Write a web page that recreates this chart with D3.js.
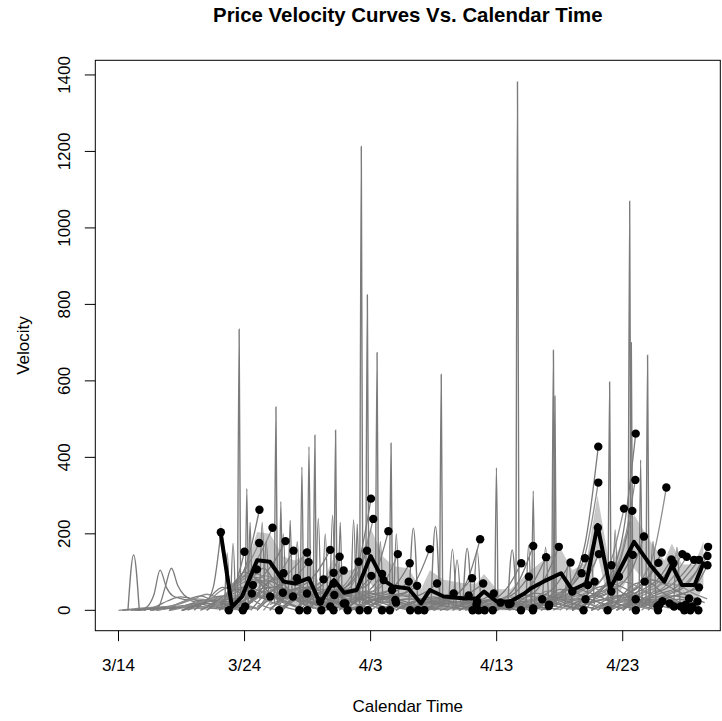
<!DOCTYPE html>
<html><head><meta charset="utf-8">
<script src="https://cdn.jsdelivr.net/npm/d3@7"></script>
<style>
body{margin:0;background:#fff}
svg{display:block}
text{font-family:"Liberation Sans",Arial,Helvetica,sans-serif;fill:#000}
</style>
</head><body>
<svg id="chart" width="722" height="721"></svg>
<script>
// ---------------- DATA (days since 3/14) ----------------
const xTickDays = [0, 10, 20, 30, 40];
const xTickLabels = ["3/14", "3/24", "4/3", "4/13", "4/23"];
const yTicks = [0, 200, 400, 600, 800, 1000, 1200, 1400];

// thick black mean curve
const meanDays = [8.1, 9.0, 9.8, 11.0, 12.0, 13.1, 14.0, 15.1, 16.0, 17.1, 17.9, 18.9, 20.0, 21.0, 21.8, 23.0, 24.0, 24.7, 25.8, 27.5, 28.4, 29.0, 30.0, 31.1, 32.2, 32.7, 33.7, 35.1, 36.0, 37.1, 38.0, 39.0, 40.9, 42.2, 43.3, 43.9, 44.7, 45.7, 46.4];
const meanVals = [204, 9, 36, 131, 127, 75, 70, 84, 18, 79, 46, 53, 142, 79, 62, 57, 18, 53, 36, 31, 31, 49, 23, 23, 44, 57, 75, 97, 53, 70, 223, 57, 179, 118, 75, 118, 66, 66, 123];
// light grey band around the mean
const bandUpper = [230, 45, 85, 205, 200, 140, 130, 150, 60, 140, 100, 110, 215, 140, 115, 110, 55, 105, 80, 70, 70, 95, 55, 55, 90, 105, 130, 160, 105, 125, 300, 110, 250, 180, 130, 175, 120, 120, 180];
const bandLower = [170, 0, 0, 60, 60, 15, 10, 20, 0, 20, 0, 0, 70, 20, 10, 5, 0, 0, 0, 0, 0, 5, 0, 0, 0, 10, 20, 35, 0, 15, 145, 5, 110, 55, 20, 60, 10, 10, 65];

// narrow peaks: [day, height, half width (days), base]
const spikes = [
  [1.2, 145, 0.45, 0], [9.57, 735, 0.12, 20], [10.18, 318, 0.12, 20], [12.49, 532, 0.12, 20], [12.88, 284, 0.12, 20],
  [14.55, 375, 0.12, 15], [15.11, 428, 0.12, 15], [15.58, 458, 0.12, 15], [17.22, 471, 0.12, 15], [19.26, 1213, 0.12, 15],
  [19.74, 825, 0.12, 15], [20.51, 674, 0.12, 15], [21.62, 437, 0.12, 15], [25.6, 617, 0.12, 10], [29.98, 373, 0.12, 10],
  [31.65, 1382, 0.12, 10], [32.9, 312, 0.12, 10], [34.5, 680, 0.12, 10], [34.62, 560, 0.12, 10], [38.96, 597, 0.12, 10],
  [40.55, 1070, 0.12, 10], [40.68, 700, 0.12, 10], [41.42, 393, 0.12, 10], [41.97, 667, 0.12, 10],
  [8.62, 150, 0.2, 5], [9.09, 175, 0.2, 5], [10.44, 230, 0.15, 20], [11.4, 230, 0.2, 30], [11.72, 180, 0.2, 30],
  [13.07, 200, 0.2, 30], [13.62, 235, 0.15, 30], [14.18, 180, 0.2, 25], [15.85, 240, 0.2, 20], [16.4, 200, 0.2, 20],
  [16.98, 249, 0.2, 20], [17.59, 230, 0.15, 20], [18.65, 236, 0.2, 20], [18.94, 225, 0.15, 20], [20.77, 180, 0.2, 20],
  [22.04, 200, 0.2, 15], [23.39, 215, 0.35, 15], [25.14, 219, 0.35, 15], [26.49, 160, 0.3, 10], [27.66, 162, 0.35, 10],
  [28.45, 158, 0.3, 10], [26.86, 132, 0.3, 10], [31.23, 158, 0.35, 10], [32.53, 170, 0.2, 10], [33.88, 165, 0.25, 10],
  [35.7, 130, 0.3, 10], [37.45, 150, 0.3, 15], [39.4, 210, 0.2, 15], [42.4, 180, 0.25, 15], [44.3, 165, 0.25, 15]
];

// individual velocity curves: [start day, end day, values at evenly spaced knots]
const curves = [
  [0.0, 7.0, 0, 3, 6, 8, 10, 8, 6, 4],
  [1.3, 8.3, 0, 2, 10, 40, 105, 60, 38, 32, 28, 25, 20, 15, 10, 8, 5],
  [2.7, 9.7, 0, 10, 60, 110, 65, 40, 30, 26, 22, 18, 14, 10, 7, 4, 3],
  [1.0, 9.0, 0, 2, 5, 10, 18, 30, 42, 30, 15],
  [1.5, 9.5, 0, 3, 6, 14, 28, 38, 25, 14, 6],
  [3.0, 10.0, 0, 5, 10, 20, 28, 22, 12, 5],
  [4.0, 11.0, 0, 6, 14, 22, 26, 18, 10, 4],
  [0.3, 8.3, 0, 2, 4, 6, 9, 12, 10, 6, 3],
  [2.5, 10.5, 0, 4, 8, 12, 16, 18, 14, 8, 3],
  [5.0, 11.0, 0, 5, 12, 20, 24, 15, 6],
  [5.1, 8.12, 0, 8, 12, 20, 60, 204],
  [2.0, 8.75, 0, 10, 25, 35, 30, 20, 10, 0],
  [3.0, 9.87, 0, 8, 20, 30, 28, 15, 6, 0],
  [3.5, 9.99, 5, 6, 14, 22, 30, 45, 153],
  [4.0, 10.05, 0, 10, 18, 25, 20, 14, 10],
  [4.5, 10.58, 10, 12, 22, 30, 35, 40, 44],
  [5.0, 10.66, 0, 15, 25, 28, 35, 66],
  [5.5, 10.98, 0, 20, 35, 40, 60, 107],
  [6.0, 11.16, 20, 25, 50, 70, 110, 176],
  [7.0, 11.18, 0, 30, 60, 120, 263],
  [6.5, 12.03, 0, 20, 45, 60, 40, 36],
  [7.5, 12.22, 10, 40, 80, 100, 150, 216],
  [6.0, 12.74, 0, 30, 60, 50, 30, 10, 0],
  [7.0, 13.04, 0, 25, 55, 45, 35, 46],
  [7.5, 13.09, 5, 35, 70, 80, 75, 97],
  [8.0, 13.25, 0, 50, 90, 85, 120, 181],
  [8.0, 13.84, 20, 30, 60, 45, 30, 36],
  [8.5, 13.88, 0, 40, 70, 75, 100, 156],
  [9.0, 14.15, 10, 45, 80, 60, 70, 84],
  [8.0, 14.35, 0, 25, 40, 35, 20, 8, 0],
  [9.5, 14.95, 0, 60, 90, 80, 110, 151],
  [8.5, 14.95, 15, 20, 45, 60, 40, 30, 44],
  [9.0, 14.98, 0, 30, 50, 35, 15, 0],
  [10.0, 15.08, 0, 55, 85, 70, 90, 126],
  [10.0, 16.0, 5, 35, 60, 55, 35, 20, 23],
  [10.5, 16.1, 0, 40, 55, 30, 12, 0],
  [10.5, 16.27, 20, 45, 60, 50, 55, 81],
  [11.0, 16.8, 0, 50, 70, 65, 95, 158],
  [11.0, 16.8, 10, 30, 45, 30, 15, 10],
  [11.5, 17.06, 0, 40, 55, 60, 70, 98],
  [11.0, 17.06, 0, 35, 50, 40, 45, 70],
  [12.0, 17.06, 0, 35, 40, 20, 0],
  [12.0, 17.12, 15, 30, 45, 35, 25, 40],
  [12.5, 17.54, 0, 45, 60, 55, 80, 140],
  [13.0, 17.86, 0, 35, 50, 45, 60, 104],
  [12.0, 17.86, 5, 25, 40, 35, 25, 18],
  [13.0, 18.0, 0, 30, 35, 28, 18],
  [13.0, 18.18, 10, 30, 40, 25, 10, 0],
  [14.0, 19.05, 0, 40, 55, 50, 70, 127],
  [14.0, 19.13, 0, 30, 35, 20, 8, 0],
  [14.5, 19.71, 5, 35, 50, 55, 80, 156],
  [15.0, 19.78, 0, 35, 40, 20, 0],
  [14.0, 20.03, 0, 30, 45, 40, 60, 120, 292],
  [15.0, 20.06, 10, 30, 45, 40, 55, 90],
  [15.0, 20.21, 0, 35, 50, 55, 110, 239],
  [16.0, 20.9, 0, 30, 40, 20, 0],
  [16.0, 20.91, 5, 35, 45, 50, 95],
  [16.5, 21.03, 0, 30, 40, 45, 79],
  [16.5, 21.41, 0, 40, 55, 60, 100, 207],
  [17.0, 21.53, 0, 25, 30, 15, 0],
  [17.0, 21.7, 10, 30, 40, 45, 53],
  [17.0, 21.96, 0, 25, 35, 30, 27],
  [17.5, 22.02, 0, 25, 30, 22, 20],
  [17.5, 22.16, 5, 30, 45, 50, 80, 147],
  [18.0, 23.02, 0, 25, 35, 40, 50, 75],
  [18.0, 23.1, 0, 30, 40, 45, 70, 123],
  [18.5, 23.14, 5, 20, 30, 15, 0],
  [18.5, 23.69, 0, 25, 35, 40, 64],
  [19.0, 23.77, 0, 25, 30, 12, 0],
  [19.5, 24.26, 0, 20, 25, 10, 0],
  [19.5, 24.69, 0, 25, 40, 45, 80, 160],
  [20.0, 25.27, 10, 30, 40, 35, 45, 70],
  [21.0, 26.59, 0, 25, 30, 28, 35, 44],
  [22.0, 27.78, 0, 20, 28, 25, 30, 39],
  [22.5, 28.05, 5, 22, 30, 28, 45, 84],
  [23.0, 28.09, 0, 18, 22, 12, 0],
  [23.0, 28.4, 0, 20, 25, 20, 15],
  [23.5, 28.45, 0, 18, 22, 20, 23],
  [23.5, 28.57, 5, 15, 20, 10, 0],
  [23.0, 28.69, 0, 20, 30, 35, 70, 186],
  [23.5, 28.93, 0, 22, 28, 30, 45, 70],
  [24.0, 29.05, 0, 15, 18, 8, 0],
  [24.5, 29.69, 0, 15, 20, 10, 0],
  [24.5, 29.77, 5, 18, 22, 25, 44],
  [25.0, 30.3, 0, 15, 22, 18, 20],
  [25.5, 30.96, 0, 15, 20, 15, 16],
  [26.0, 31.1, 0, 15, 18, 14, 18],
  [26.5, 31.93, 5, 15, 18, 8, 0],
  [26.5, 31.95, 0, 18, 25, 30, 60, 123],
  [27.0, 32.55, 0, 15, 22, 28, 45, 88],
  [27.5, 32.88, 0, 12, 18, 8, 0],
  [27.5, 32.9, 5, 18, 25, 35, 80, 168],
  [28.0, 32.9, 0, 12, 15, 10, 5],
  [28.5, 33.61, 0, 15, 20, 22, 29],
  [28.5, 33.92, 0, 18, 25, 35, 70, 139],
  [29.0, 34.14, 5, 12, 18, 14, 11],
  [29.0, 34.16, 0, 15, 20, 18, 15],
  [29.5, 34.93, 0, 20, 28, 40, 85, 166],
  [30.0, 35.86, 0, 18, 25, 35, 65, 125],
  [30.5, 36.0, 5, 18, 25, 30, 49],
  [31.0, 36.74, 0, 20, 28, 35, 55, 97],
  [31.5, 36.89, 0, 15, 20, 10, 0],
  [31.5, 37.0, 0, 22, 30, 40, 75, 136],
  [32.0, 37.05, 5, 15, 25, 28, 29],
  [32.0, 37.24, 0, 20, 30, 40, 66],
  [32.5, 37.77, 0, 22, 30, 45, 75],
  [32.5, 38.03, 5, 25, 40, 60, 110, 216],
  [33.0, 38.06, 0, 25, 45, 80, 180, 428],
  [33.0, 38.06, 0, 20, 40, 70, 150, 334],
  [33.0, 38.11, 10, 25, 35, 50, 80, 147],
  [33.5, 38.8, 0, 20, 30, 15, 0],
  [34.0, 39.1, 0, 25, 35, 45, 70, 118],
  [34.0, 39.1, 5, 20, 30, 35, 49],
  [34.5, 39.7, 0, 22, 35, 45, 88],
  [35.0, 40.1, 0, 25, 45, 70, 130, 266],
  [35.5, 40.76, 10, 25, 40, 65, 120, 260],
  [35.5, 40.8, 0, 25, 40, 55, 85, 145],
  [36.0, 41.0, 0, 25, 45, 80, 160, 341],
  [36.0, 41.03, 5, 30, 50, 90, 200, 462],
  [36.0, 41.03, 0, 20, 30, 35, 29],
  [36.0, 41.04, 0, 20, 28, 15, 0],
  [36.5, 41.68, 0, 25, 40, 60, 100, 193],
  [36.5, 41.74, 10, 22, 35, 45, 75],
  [37.5, 42.75, 0, 20, 28, 20, 10],
  [37.5, 42.8, 0, 18, 25, 12, 0],
  [37.5, 42.83, 5, 25, 35, 50, 75, 124],
  [38.0, 42.93, 0, 20, 25, 20, 15],
  [38.0, 43.09, 0, 25, 40, 55, 90, 151],
  [38.0, 43.15, 10, 20, 30, 28, 24],
  [38.5, 43.46, 0, 25, 45, 80, 150, 321],
  [38.5, 43.72, 0, 20, 28, 24, 18],
  [39.0, 43.86, 5, 30, 45, 60, 85, 133],
  [39.0, 44.02, 0, 28, 40, 55, 80, 123],
  [39.0, 44.07, 0, 18, 25, 18, 10],
  [39.5, 44.6, 10, 20, 28, 20, 10],
  [39.5, 44.73, 0, 30, 45, 60, 95, 147],
  [39.5, 44.88, 0, 20, 28, 15, 0],
  [40.0, 45.0, 5, 22, 30, 25, 15],
  [40.0, 45.08, 0, 30, 45, 55, 90, 140],
  [40.0, 45.26, 0, 25, 35, 38, 31],
  [40.5, 45.36, 10, 20, 25, 12, 0],
  [40.5, 45.53, 0, 20, 28, 18, 10],
  [40.5, 45.66, 0, 30, 45, 60, 90, 132],
  [41.0, 45.93, 5, 22, 30, 28, 23],
  [41.0, 46.0, 0, 20, 25, 12, 0],
  [41.0, 46.05, 0, 30, 45, 55, 90, 132],
  [41.5, 46.05, 10, 25, 35, 45, 60],
  [41.5, 46.72, 0, 30, 45, 60, 95, 142],
  [42.0, 46.72, 0, 28, 40, 55, 118],
  [42.0, 46.77, 5, 30, 45, 60, 100, 166],
  [7.5, 14.5, 5, 40, 70, 90, 60, 30, 15, 5],
  [8.0, 15.0, 10, 60, 100, 80, 45, 25, 10, 2],
  [8.5, 15.5, 0, 30, 80, 110, 70, 40, 20, 5],
  [9.0, 16.0, 5, 50, 95, 70, 40, 30, 15, 3],
  [9.5, 16.5, 0, 25, 60, 85, 55, 35, 20, 8],
  [10.0, 17.0, 0, 40, 75, 60, 30, 20, 10, 2],
  [11.0, 18.0, 5, 35, 65, 75, 50, 30, 15, 5],
  [12.0, 19.0, 0, 30, 55, 45, 35, 25, 12, 3],
  [13.0, 20.0, 5, 40, 60, 50, 40, 30, 15, 5],
  [14.0, 21.0, 0, 25, 45, 55, 40, 25, 12, 2],
  [15.0, 22.0, 0, 30, 50, 40, 30, 20, 10, 3],
  [16.0, 23.0, 5, 35, 55, 45, 30, 18, 8, 2],
  [17.0, 24.0, 0, 25, 40, 50, 35, 20, 10, 4],
  [18.0, 25.0, 0, 30, 45, 35, 25, 15, 8, 2],
  [19.0, 26.0, 5, 25, 35, 30, 20, 12, 6, 2],
  [20.0, 27.0, 0, 20, 35, 40, 28, 15, 8, 3],
  [21.0, 28.0, 0, 25, 30, 25, 18, 10, 5, 2],
  [22.0, 29.0, 0, 18, 30, 35, 22, 12, 6, 2],
  [23.0, 30.0, 5, 20, 28, 22, 15, 10, 5, 2],
  [24.0, 31.0, 0, 15, 25, 30, 20, 12, 6, 2],
  [25.0, 32.0, 0, 18, 22, 18, 12, 8, 4, 1],
  [26.0, 33.0, 3, 20, 30, 25, 18, 10, 5, 2],
  [27.0, 34.0, 0, 15, 25, 28, 20, 12, 6, 2],
  [28.0, 35.0, 0, 20, 30, 22, 15, 10, 6, 3],
  [29.0, 36.0, 5, 22, 35, 30, 22, 15, 8, 3],
  [30.0, 37.0, 0, 25, 40, 35, 25, 15, 8, 2],
  [31.0, 38.0, 0, 28, 45, 40, 30, 18, 10, 3],
  [32.0, 39.0, 5, 30, 50, 45, 32, 20, 10, 4],
  [33.0, 40.0, 0, 30, 55, 50, 35, 22, 12, 4],
  [34.0, 41.0, 0, 35, 60, 50, 38, 25, 12, 5],
  [35.0, 42.0, 5, 40, 65, 55, 40, 25, 12, 4],
  [36.0, 43.0, 0, 35, 60, 65, 45, 28, 14, 5],
  [37.0, 44.0, 0, 40, 70, 60, 42, 25, 12, 4],
  [38.0, 45.0, 5, 45, 75, 65, 45, 30, 15, 5],
  [39.0, 46.0, 0, 40, 70, 75, 50, 30, 15, 5],
  [40.0, 46.5, 0, 45, 80, 70, 50, 35, 20],
  [41.0, 46.7, 0, 40, 70, 65, 45, 30]
];

// end-of-curve points: [day, velocity]
const dots = [
  [8.12, 204], [8.75, 0], [9.87, 0], [9.99, 153], [10.05, 10], [10.58, 44], [10.66, 66], [10.98, 107], [11.16, 176], [11.18, 263],
  [12.03, 36], [12.22, 216], [12.74, 0], [13.04, 46], [13.09, 97], [13.25, 181], [13.84, 36], [13.88, 156], [14.15, 84], [14.35, 0],
  [14.95, 151], [14.95, 44], [14.98, 0], [15.08, 126], [16.0, 23], [16.1, 0], [16.27, 81], [16.8, 158], [16.8, 10], [17.06, 98],
  [17.06, 70], [17.06, 0], [17.12, 40], [17.54, 140], [17.86, 104], [17.86, 18], [18.0, 18], [18.18, 0], [19.05, 127], [19.13, 0],
  [19.71, 156], [19.78, 0], [20.03, 292], [20.06, 90], [20.21, 239], [20.9, 0], [20.91, 95], [21.03, 79], [21.41, 207], [21.53, 0],
  [21.7, 53], [21.96, 27], [22.02, 20], [22.16, 147], [23.02, 75], [23.1, 123], [23.14, 0], [23.69, 64], [23.77, 0], [24.26, 0],
  [24.69, 160], [25.27, 70], [26.59, 44], [27.78, 39], [28.05, 84], [28.09, 0], [28.4, 15], [28.45, 23], [28.57, 0], [28.69, 186],
  [28.93, 70], [29.05, 0], [29.69, 0], [29.77, 44], [30.3, 20], [30.96, 16], [31.1, 18], [31.93, 0], [31.95, 123], [32.55, 88],
  [32.88, 0], [32.9, 168], [32.9, 5], [33.61, 29], [33.92, 139], [34.14, 11], [34.16, 15], [34.93, 166], [35.86, 125], [36.0, 49],
  [36.74, 97], [36.89, 0], [37.0, 136], [37.05, 29], [37.24, 66], [37.77, 75], [38.03, 216], [38.06, 428], [38.06, 334], [38.11, 147],
  [38.8, 0], [39.1, 118], [39.1, 49], [39.7, 88], [40.1, 266], [40.76, 260], [40.8, 145], [41.0, 341], [41.03, 462], [41.03, 29],
  [41.04, 0], [41.68, 193], [41.74, 75], [42.75, 10], [42.8, 0], [42.83, 124], [42.93, 15], [43.09, 151], [43.15, 24], [43.46, 321],
  [43.72, 18], [43.86, 133], [44.02, 123], [44.07, 10], [44.6, 10], [44.73, 147], [44.88, 0], [45.0, 15], [45.08, 140], [45.26, 31],
  [45.36, 0], [45.53, 10], [45.66, 132], [45.93, 23], [46.0, 0], [46.05, 132], [46.05, 60], [46.72, 142], [46.72, 118], [46.77, 166]
];

// ---------------- DRAWING ----------------
const svg = d3.select("#chart");
const box = {left: 95.3, right: 720.3, top: 60.3, bottom: 630.7};
const x = d3.scaleLinear().domain([-1.84, 47.74]).range([box.left, box.right]);
const y = d3.scaleLinear().domain([-53.3, 1438.3]).range([box.bottom, box.top]);

svg.append("defs").append("clipPath").attr("id", "clip")
  .append("rect").attr("x", box.left).attr("y", box.top)
  .attr("width", box.right - box.left).attr("height", box.bottom - box.top);

const plot = svg.append("g").attr("clip-path", "url(#clip)");

// band
const bandData = meanDays.map((d, i) => ({d, lo: bandLower[i], hi: bandUpper[i]}));
plot.append("path").datum(bandData)
  .attr("d", d3.area().x(p => x(p.d)).y0(p => y(p.lo)).y1(p => y(p.hi)))
  .attr("fill", "#c8c8c8").attr("stroke", "none");

const smooth = d3.line().x(p => x(p[0])).y(p => y(p[1])).curve(d3.curveMonotoneX);

// curves
plot.append("g").selectAll("path").data(curves).join("path")
  .attr("d", c => {
    const s = c[0], e = c[1], v = c.slice(2), n = v.length;
    return smooth(v.map((val, i) => [s + i * (e - s) / (n - 1), val]));
  })
  .attr("fill", "none").attr("stroke", (c, i) => i % 3 === 0 ? "#8e8e8e" : "#7b7b7b").attr("stroke-width", 1.3);

// spikes
plot.append("g").selectAll("path").data(spikes).join("path")
  .attr("d", s => smooth([[s[0] - s[2], s[3]], [s[0], s[1]], [s[0] + s[2], s[3]]]))
  .attr("fill", "none").attr("stroke", "#7b7b7b").attr("stroke-width", 1.4);

// mean line
plot.append("path").datum(meanDays.map((d, i) => [d, meanVals[i]]))
  .attr("d", d3.line().x(p => x(p[0])).y(p => y(p[1])))
  .attr("fill", "none").attr("stroke", "#000").attr("stroke-width", 4)
  .attr("stroke-linejoin", "round").attr("stroke-linecap", "round");

// dots
plot.append("g").selectAll("circle").data(dots).join("circle")
  .attr("cx", p => x(p[0])).attr("cy", p => y(p[1])).attr("r", 4.2).attr("fill", "#000");

// box
svg.append("rect").attr("x", box.left).attr("y", box.top)
  .attr("width", box.right - box.left).attr("height", box.bottom - box.top)
  .attr("fill", "none").attr("stroke", "#000").attr("stroke-width", 1);

// x axis
const tickLen = 10.5;
const gx = svg.append("g");
gx.selectAll("line").data(xTickDays).join("line")
  .attr("x1", d => x(d)).attr("x2", d => x(d))
  .attr("y1", box.bottom).attr("y2", box.bottom + tickLen)
  .attr("stroke", "#000");
gx.selectAll("text").data(xTickDays).join("text")
  .attr("x", d => x(d)).attr("y", 670.5).attr("text-anchor", "middle")
  .attr("font-size", 17).text((d, i) => xTickLabels[i]);

// y axis
const gy = svg.append("g");
gy.selectAll("line").data(yTicks).join("line")
  .attr("x1", box.left - tickLen).attr("x2", box.left)
  .attr("y1", v => y(v)).attr("y2", v => y(v)).attr("stroke", "#000");
gy.selectAll("text").data(yTicks).join("text")
  .attr("transform", v => `translate(69.5,${y(v)}) rotate(-90)`)
  .attr("text-anchor", "middle").attr("font-size", 17).text(v => v);

// titles
svg.append("text").attr("x", (box.left + box.right) / 2).attr("y", 22)
  .attr("text-anchor", "middle").attr("font-size", 20.4).attr("font-weight", "bold")
  .text("Price Velocity Curves Vs. Calendar Time");
svg.append("text").attr("x", (box.left + box.right) / 2).attr("y", 711.5)
  .attr("text-anchor", "middle").attr("font-size", 17).text("Calendar Time");
svg.append("text").attr("transform", `translate(28.7,${(box.top + box.bottom) / 2}) rotate(-90)`)
  .attr("text-anchor", "middle").attr("font-size", 17).text("Velocity");
</script>
</body></html>
